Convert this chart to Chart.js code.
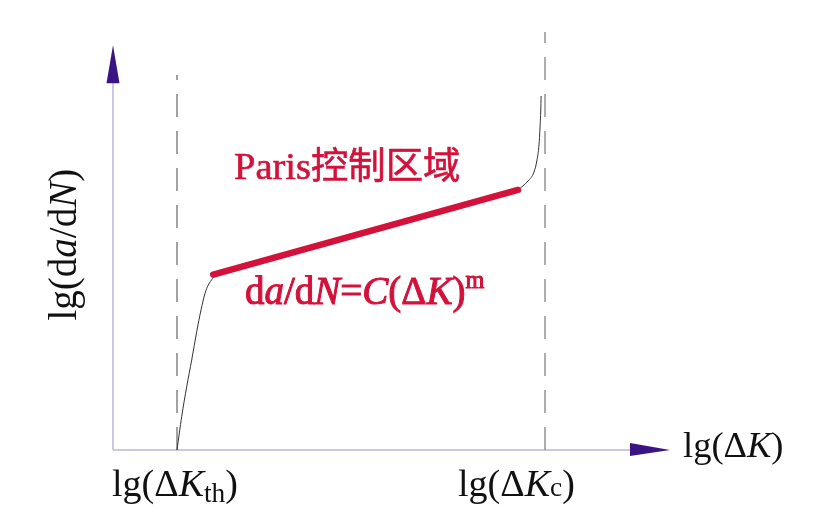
<!DOCTYPE html>
<html>
<head>
<meta charset="utf-8">
<script src="https://cdn.jsdelivr.net/npm/chart.js@4/dist/chart.umd.min.js"></script>
<style>
  html, body { margin: 0; padding: 0; background: #fff; }
  #wrap { width: 827px; height: 531px; position: relative; }
</style>
</head>
<body>
<div id="wrap"><canvas id="c"></canvas></div>
<script>
// lg(dK) on x, lg(da/dN) on y, arbitrary units
const thresholdX = [1.149, 1.233, 1.323, 1.413, 1.503, 1.580, 1.652, 1.711, 1.790];
const thresholdY = [0, 0.823, 1.564, 2.224, 2.923, 3.459, 3.871, 4.077, 4.242];
const parisX = [1.800, 7.271];
const parisY = [4.330, 6.424];
const fractureX = [7.271, 7.451, 7.559, 7.612, 7.648, 7.666, 7.680, 7.686];
const fractureY = [6.424, 6.646, 6.868, 7.165, 7.535, 7.955, 8.400, 8.746];
const limitX = [1.149, 7.756];        // lg(dK_th), lg(dK_c)
const limitTop = [9.265, 10.327];
const axisEnd = 10;

const pts = (xs, ys) => xs.map((x, i) => ({ x: x, y: ys[i] }));

const serif = '"Liberation Serif", "Times New Roman", serif';
const red = '#d3123b';

// draws text runs: [text, style, sizeScale, family, dy]
function runs(ctx, x, y, parts, size, color, thicken) {
  ctx.fillStyle = color;
  ctx.strokeStyle = color;
  ctx.lineWidth = thicken || 0;
  ctx.textBaseline = 'alphabetic';
  ctx.textAlign = 'left';
  parts.forEach(p => {
    const sz = size * (p[2] || 1);
    const fam = p[3] || serif;
    ctx.font = (p[1] || '') + ' ' + sz + 'px ' + fam;
    ctx.fillText(p[0], x, y + (p[4] || 0));
    if (thicken) ctx.strokeText(p[0], x, y + (p[4] || 0));
    x += ctx.measureText(p[0]).width;
  });
}

const decor = {
  id: 'decor',
  beforeDatasetsDraw(chart) {
    const ctx = chart.ctx;
    const xs = chart.scales.x, ys = chart.scales.y;
    const x0 = xs.getPixelForValue(0), y0 = ys.getPixelForValue(0);
    const xe = xs.getPixelForValue(axisEnd), ye = ys.getPixelForValue(axisEnd);
    ctx.save();
    ctx.strokeStyle = '#c9c9e2';
    ctx.lineWidth = 2;
    ctx.beginPath();
    ctx.moveTo(x0, y0); ctx.lineTo(x0, ye + 36);
    ctx.moveTo(x0, y0); ctx.lineTo(xe - 38, y0);
    ctx.stroke();
    ctx.fillStyle = '#3b1484';
    ctx.beginPath();
    ctx.moveTo(x0, ye); ctx.lineTo(x0 - 6.5, ye + 38); ctx.lineTo(x0 + 6.5, ye + 38);
    ctx.closePath(); ctx.fill();
    ctx.beginPath();
    ctx.moveTo(xe, y0); ctx.lineTo(xe - 40, y0 - 7); ctx.lineTo(xe - 40, y0 + 6);
    ctx.closePath(); ctx.fill();
    ctx.restore();
  },
  afterDraw(chart) {
    const ctx = chart.ctx;
    const xs = chart.scales.x, ys = chart.scales.y;
    const y0 = ys.getPixelForValue(0);
    const xe = xs.getPixelForValue(axisEnd);
    ctx.save();
    const k = '#111';
    runs(ctx, xe + 13, y0 + 7, [['lg(Δ'], ['K', 'italic'], [')']], 36.5, k);
    const t1 = xs.getPixelForValue(limitX[0]);
    runs(ctx, t1 - 65, y0 + 46, [['lg(Δ'], ['K', 'italic'], ['th', '', 0.72, null, 6], [')']], 38, k);
    const t2 = xs.getPixelForValue(limitX[1]);
    runs(ctx, t2 - 87, y0 + 46, [['lg(Δ'], ['K', 'italic'], ['c', '', 0.72, null, 0], [')']], 38, k);

    // y title
    ctx.save();
    ctx.translate(76, ys.getPixelForValue(3.2));
    ctx.rotate(-Math.PI / 2);
    runs(ctx, 0, 0, [['lg(d'], ['a', 'italic'], ['/d'], ['N', 'italic'], [')']], 39, k);
    ctx.restore();

    // annotations
    runs(ctx, 234, 179, [['Paris'], ['控制区域', '', 0.97, '"Noto Sans CJK SC", sans-serif']], 38.5, red, 0.6);
    runs(ctx, 245, 304, [['d'], ['a', 'italic'], ['/d'], ['N', 'italic'], ['='], ['C', 'italic'], ['(Δ'], ['K', 'italic'], [')'], ['m', '', 0.62, null, -16]], 39, red, 1);
    ctx.restore();
  }
};

new Chart(document.getElementById('c'), {
  type: 'scatter',
  data: {
    datasets: [
      { data: pts(thresholdX, thresholdY), showLine: true, borderColor: '#333', borderWidth: 1, cubicInterpolationMode: 'monotone', pointRadius: 0 },
      { data: pts(parisX, parisY), showLine: true, borderColor: red, borderWidth: 6.5, borderCapStyle: 'round', pointRadius: 0 },
      { data: pts(fractureX, fractureY), showLine: true, borderColor: '#333', borderWidth: 1, cubicInterpolationMode: 'monotone', pointRadius: 0 },
      { data: [{ x: limitX[0], y: 0 }, { x: limitX[0], y: limitTop[0] }], showLine: true, borderColor: '#666', borderWidth: 1.2, borderDash: [23, 14], pointRadius: 0 },
      { data: [{ x: limitX[1], y: 0 }, { x: limitX[1], y: limitTop[1] }], showLine: true, borderColor: '#777', borderWidth: 1.2, borderDash: [23, 14], pointRadius: 0 }
    ]
  },
  options: {
    responsive: true,
    maintainAspectRatio: false,
    animation: false,
    layout: { padding: { left: 113, right: 157, top: 25, bottom: 81 } },
    scales: {
      x: { type: 'linear', min: 0, max: 10, display: false },
      y: { type: 'linear', min: 0, max: 10.5, display: false }
    },
    plugins: { legend: { display: false }, tooltip: { enabled: false } },
    elements: { line: { fill: false } },
    clip: false
  },
  plugins: [decor]
});
</script>
</body>
</html>
